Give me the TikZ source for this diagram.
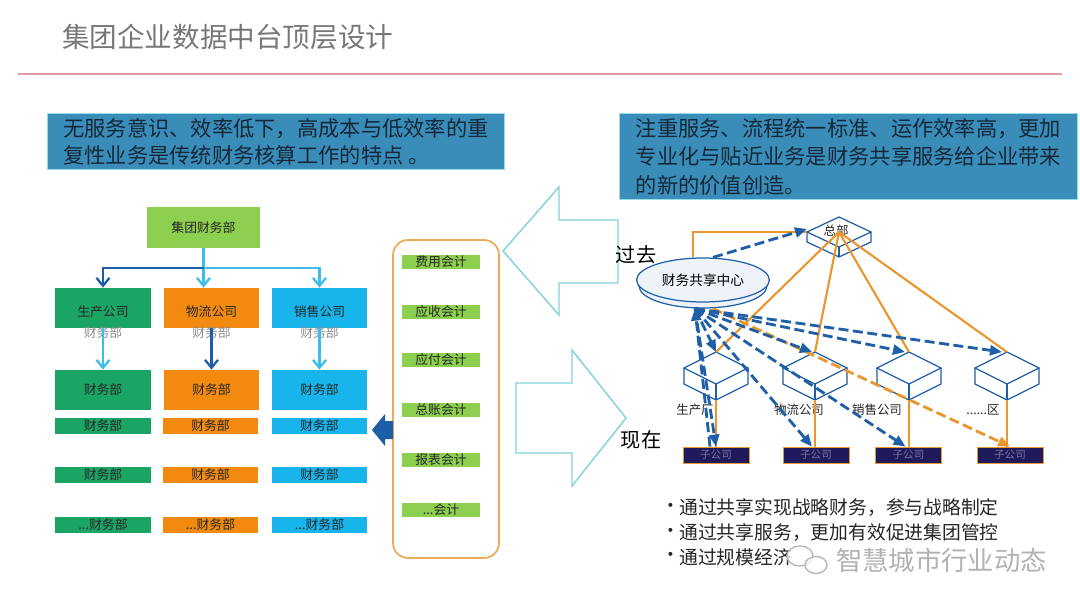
\documentclass[tikz,border=0pt]{standalone}
\usepackage{fontspec}
\setmainfont{Noto Sans CJK SC}
\usetikzlibrary{positioning,shapes.geometric,arrows.meta}
\definecolor{titlegray}{HTML}{777777}
\definecolor{rulered}{HTML}{E49AA4}
\definecolor{panelblue}{HTML}{3A8DB8}
\definecolor{paneledge}{HTML}{9ADDEA}
\definecolor{paneltext}{HTML}{14283A}
\definecolor{leafgreen}{HTML}{8DCF4F}
\definecolor{deepgreen}{HTML}{1BA565}
\definecolor{deeporange}{HTML}{F28A10}
\definecolor{skyblue}{HTML}{17B5EB}
\definecolor{linkdark}{HTML}{1C5EA8}
\definecolor{linklight}{HTML}{3DBDEB}
\definecolor{hollowcyan}{HTML}{80D2DA}
\definecolor{netblue}{HTML}{1F5FA8}
\definecolor{netorange}{HTML}{E9962F}
\definecolor{navybar}{HTML}{1F1A5C}
\definecolor{disk}{HTML}{EEF3F9}

\newcommand\netbox[6]{%
  \fill[white] ({#2-#4},#3) -- (#2,{#3-#5}) -- ({#2+#4},#3) -- ({#2+#4},{#3+#6}) -- (#2,{#3+#5+#6}) -- ({#2-#4},{#3+#6}) -- cycle;
  \draw[boxline] ({#2-#4},#3) -- (#2,{#3-#5}) -- ({#2+#4},#3) -- (#2,{#3+#5}) -- cycle;
  \draw[boxline] ({#2-#4},#3) -- ({#2-#4},{#3+#6}) -- (#2,{#3+#5+#6}) -- ({#2+#4},{#3+#6}) -- ({#2+#4},#3);
  \draw[boxline] (#2,{#3+#5}) -- (#2,{#3+#5+#6});
  \coordinate (#1-t) at (#2,{#3-#5});
  \coordinate (#1-b) at (#2,{#3+#5+#6});
  \coordinate (#1-l) at ({#2-#4},#3);
  \coordinate (#1-c) at (#2,#3);
}

\begin{document}
\begin{tikzpicture}[x=0.02cm,y=-0.02cm,
    orgbox/.style={inner sep=0pt,minimum width=1.92cm,minimum height=0.8cm,text=black!85,font=\fontsize{7.3}{8}\selectfont},
    thinbox/.style={orgbox,minimum height=0.32cm},
    acct/.style={fill=leafgreen,inner sep=0pt,minimum width=1.56cm,minimum height=0.28cm,text=black!85,font=\fontsize{7.3}{8}\selectfont},
    panel/.style={fill=panelblue,draw=paneledge,line width=0.6pt,inner xsep=0.2cm,inner ysep=0pt,align=left,anchor=north west,text=paneltext,font=\fontsize{12.1}{15.4}\selectfont},
    treelink/.style={line width=1.3pt,-{Straight Barb[length=0.16cm,width=0.26cm,line width=1.3pt]}},
    boxline/.style={draw=netblue,line width=0.7pt},
    solidlink/.style={netorange,line width=1.2pt},
    dashlink/.style={netblue,line width=1.6pt,dash pattern=on 0.2cm off 0.09cm,-{Triangle[length=0.24cm,width=0.2cm]}},
    netlabel/.style={font=\fontsize{7.1}{8}\selectfont,text=black!85},
    bar/.style={fill=navybar,draw=netorange,line width=0.5pt,inner sep=0pt,minimum width=1.32cm,minimum height=0.32cm,text=navybar!60!white,font=\fontsize{6}{7}\selectfont},
    bullet/.style={anchor=west,text=black!85,font=\fontsize{10.7}{12}\selectfont}]

  \useasboundingbox[fill=white] (0,0) rectangle (1080,608);

  \node[anchor=west,text=titlegray,font=\fontsize{15.7}{18}\selectfont] (title) at (56,37) {集团企业数据中台顶层设计};
  \draw[rulered,line width=1.2pt] (18,74) -- (1062,74);

  \node[panel,minimum width=9.14cm,minimum height=1.12cm] (oldtext) at (47,113) {无服务意识、效率低下，高成本与低效率的重\\复性业务是传统财务核算工作的特点 。};
  \node[panel,minimum width=9.16cm,minimum height=1.72cm,font=\fontsize{12.1}{16.2}\selectfont] (newtext) at (619,113) {注重服务、流程统一标准、运作效率高，更加\\专业化与贴近业务是财务共享服务给企业带来\\的新的价值创造。};

  \node[orgbox,fill=leafgreen,minimum width=2.26cm,minimum height=0.82cm] (jt) at (203.5,227.5) {集团财务部};
  \node[orgbox,fill=deepgreen] (sc) at (103,308) {};
  \node[orgbox,fill=deeporange] (wl) at (211.5,308) {};
  \node[orgbox,fill=skyblue] (xs) at (319.5,308) {};
  \node[orgbox] (sct) at (103,312) {生产公司};
  \node[orgbox] (wlt) at (211.5,312) {物流公司};
  \node[orgbox] (xst) at (319.5,312) {销售公司};
  \node[orgbox,text=black!45] (scs) at (103,333) {财务部};
  \node[orgbox,text=black!45] (wls) at (211.5,333) {财务部};
  \node[orgbox,text=black!45] (xss) at (319.5,333) {财务部};

  \node[orgbox,fill=deepgreen] (g1) at (103,390) {财务部};
  \node[orgbox,fill=deeporange] (o1) at (211.5,390) {财务部};
  \node[orgbox,fill=skyblue] (b1) at (319.5,390) {财务部};
  \node[thinbox,fill=deepgreen] (g2) at (103,426) {财务部};
  \node[thinbox,fill=deeporange] (o2) at (210.5,426) {财务部};
  \node[thinbox,fill=skyblue] (b2) at (319.5,426) {财务部};
  \node[thinbox,fill=deepgreen] (g3) at (103,475) {财务部};
  \node[thinbox,fill=deeporange] (o3) at (210.5,475) {财务部};
  \node[thinbox,fill=skyblue] (b3) at (319.5,475) {财务部};
  \node[thinbox,fill=deepgreen] (g4) at (103,525) {...财务部};
  \node[thinbox,fill=deeporange] (o4) at (210.5,525) {...财务部};
  \node[thinbox,fill=skyblue] (b4) at (319.5,525) {...财务部};

  \coordinate (fork) at (203.5,268);
  \draw[linklight,line width=1.3pt] (jt.south) -- (fork);
  \draw[linklight,treelink] (fork) -| (xs.north);
  \draw[linklight,treelink] (fork) -- (fork |- wl.north);
  \draw[linkdark,treelink] (fork) -| (sc.north);
  \draw[linklight,treelink] (sc.south) -- (g1.north);
  \draw[linkdark,treelink] (wl.south) -- (o1.north);
  \draw[linklight,treelink] (xs.south) -- (b1.north);

  \node[draw=netorange!80,line width=1pt,rounded corners=0.3cm,minimum width=2.12cm,minimum height=6.36cm] (kj) at (446,399) {};
  \node[acct] (fy) at (441,262) {费用会计};
  \node[acct] (ys) at (441,312) {应收会计};
  \node[acct] (yf) at (441,360) {应付会计};
  \node[acct] (zz) at (441,410) {总账会计};
  \node[acct] (bb) at (441,460) {报表会计};
  \node[acct] (qt) at (441,510) {...会计};
  \fill[linkdark] (372,430) -- (385,414) -- (385,421) -- (393,421) -- (393,439) -- (385,439) -- (385,446) -- cycle;

  \draw[hollowcyan,line width=0.8pt,fill=white] (503,251) -- (559,187) -- (559,220) -- (618,220) -- (618,283) -- (559,283) -- (559,315) -- cycle;
  \draw[hollowcyan,line width=0.8pt,fill=white] (516,383) -- (572,383) -- (572,350) -- (626,418) -- (572,486) -- (572,453) -- (516,453) -- cycle;
  \node[font=\fontsize{11.5}{13}\selectfont] (past) at (636,255) {过去};
  \node[font=\fontsize{11.5}{13}\selectfont] (now) at (641,440) {现在};

  \node[ellipse,fill=disk,draw=netblue,line width=0.7pt,minimum width=2.56cm,minimum height=0.88cm] (fcl) at (703,286) {};
  \node[ellipse,fill=disk,draw=netblue,line width=0.7pt,minimum width=2.56cm,minimum height=0.88cm,font=\fontsize{7.8}{9}\selectfont] (fc) at (703,280) {财务共享中心};

  \netbox{zb}{839}{232}{32}{15}{10}
  \node[netlabel] (zbt) at (836,231) {总部};
  \netbox{q1}{716}{368}{32}{16}{16}
  \netbox{q2}{815}{368}{32}{16}{16}
  \netbox{q3}{909}{368}{32}{16}{16}
  \netbox{q4}{1007}{368}{32}{16}{16}

  \node[bar] (zg1) at (716,455) {子公司};
  \node[bar] (zg2) at (816,455) {子公司};
  \node[bar] (zg3) at (908.5,455) {子公司};
  \node[bar] (zg4) at (1010,455) {子公司};

  \node[netlabel] (l1) at (695,410) {生产厂};
  \node[netlabel] (l2) at (799,410) {物流公司};
  \node[netlabel] (l3) at (877,410) {销售公司};
  \node[netlabel] (l4) at (983,410) {......区};

  \draw[solidlink] ([xshift=-0.2cm]fc.north) |- (zb-l);
  \draw[solidlink] (zb-c) -- (q1-t);
  \draw[solidlink] (zb-c) -- (q2-t);
  \draw[solidlink] (zb-c) -- (q3-t);
  \draw[solidlink] (zb-c) -- (q4-t);
  \draw[solidlink] (q1-b) -- (q1-b |- zg1.north);
  \draw[solidlink] (q2-b) -- (q2-b |- zg2.north);
  \draw[solidlink] (q3-b) -- (q3-b |- zg3.north);
  \draw[solidlink] (q4-b) -- (q4-b |- zg4.north);

  \coordinate (fo) at ([xshift=-0.16cm]fcl.south);
  \draw[dashlink] ([xshift=0.2cm]fc.north) -- ([yshift=0.06cm]zb-l);
  \draw[dashlink,netorange] ([xshift=0.2cm]fcl.south) -- (zg4.north);
  \draw[dashlink] (fo) -- (zg1.north);
  \draw[dashlink] ([xshift=-0.12cm]zg1.north) -- (fo);
  \draw[dashlink] (fo) -- (q1-t);
  \draw[dashlink] (fo) -- ([xshift=-0.08cm]zg2.north);
  \draw[dashlink] (fo) -- ([xshift=-0.06cm]q2-t);
  \draw[dashlink] (fo) -- ([xshift=-0.06cm]zg3.north);
  \draw[dashlink] (fo) -- ([xshift=-0.08cm]q3-t);
  \draw[dashlink] (fo) -- ([xshift=-0.1cm]q4-t);

  \node[bullet] (d1) at (655,508) {•};
  \node[bullet] (d2) at (655,533) {•};
  \node[bullet] (d3) at (655,557) {•};
  \node[bullet] (t1) at (673,508) {通过共享实现战略财务，参与战略制定};
  \node[bullet] (t2) at (673,533) {通过共享服务，更加有效促进集团管控};
  \node[bullet] (t3) at (673,557) {通过规模经济};

  \draw[gray!55,line width=0.8pt,fill=white,fill opacity=0.7] (800,556) ellipse [x radius=0.26cm,y radius=0.2cm];
  \draw[gray!55,line width=0.8pt,fill=white,fill opacity=0.7] (816,565) ellipse [x radius=0.22cm,y radius=0.17cm];
  \node[anchor=west,text=gray!60,font=\fontsize{15}{17}\selectfont] (wm) at (830,560) {智慧城市行业动态};
\end{tikzpicture}
\end{document}
